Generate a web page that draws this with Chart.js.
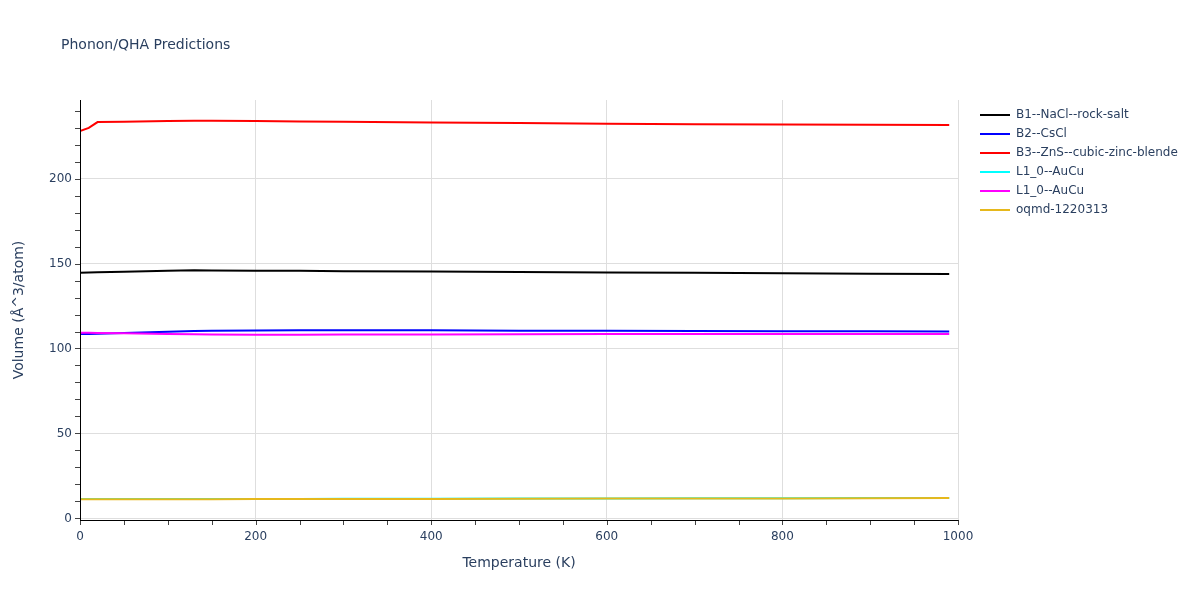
<!DOCTYPE html>
<html>
<head>
<meta charset="utf-8">
<script src="https://cdn.jsdelivr.net/npm/chart.js@4.4.1/dist/chart.umd.min.js"></script>
<style>
  html, body { margin: 0; padding: 0; background: #fff; }
  #wrap { position: relative; width: 1200px; height: 600px; font-family: "DejaVu Sans", Verdana, Arial, sans-serif; }
  #title { position: absolute; left: 61px; top: 36px; font-size: 14px; color: #2a3f5f; white-space: nowrap; }
  #legend { position: absolute; left: 980px; top: 106px; }
  .item { position: relative; height: 19px; font-size: 12px; color: #2a3f5f; white-space: nowrap; }
  .swatch { position: absolute; left: 0; top: 8px; width: 30px; height: 2px; }
  .label { position: absolute; left: 36px; top: 0px; line-height: 17px; }
</style>
</head>
<body>
<div id="wrap">
  <canvas id="c" width="1200" height="600"></canvas>
  <div id="title">Phonon/QHA Predictions</div>
  <div id="legend"></div>
</div>
<script>
// ---- data ----
const temperatures = [0, 10, 20, 50, 100, 130, 150, 200, 250, 300, 400, 500, 600, 700, 800, 900, 990];
const seriesNames = ["B1--NaCl--rock-salt", "B2--CsCl", "B3--ZnS--cubic-zinc-blende", "L1_0--AuCu", "L1_0--AuCu", "oqmd-1220313"];
const seriesColors = ["#000000", "#0000ff", "#ff0000", "#00ffff", "#ff00ff", "#e6b81c"];
const b1NaCl   = [144.6, 144.7, 144.8, 145.1, 145.7, 146.0, 145.9, 145.8, 145.7, 145.5, 145.3, 145.0, 144.7, 144.5, 144.2, 144.0, 143.9];
const b2CsCl   = [108.5, 108.6, 108.7, 109.1, 109.8, 110.3, 110.5, 110.6, 110.7, 110.8, 110.7, 110.5, 110.4, 110.3, 110.2, 110.1, 110.0];
const b3ZnS    = [228.0, 229.8, 233.2, 233.4, 233.8, 234.0, 234.0, 233.8, 233.6, 233.4, 233.0, 232.6, 232.2, 232.0, 231.8, 231.6, 231.5];
const l10AuCuA = [11.4, 11.4, 11.4, 11.4, 11.4, 11.4, 11.4, 11.5, 11.5, 11.6, 11.6, 11.7, 11.8, 11.9, 11.9, 12.0, 12.1];
const l10AuCuB = [109.3, 109.2, 109.1, 108.9, 108.6, 108.4, 108.3, 108.1, 108.1, 108.2, 108.3, 108.4, 108.5, 108.5, 108.6, 108.6, 108.6];
const oqmd     = [11.3, 11.3, 11.3, 11.3, 11.3, 11.3, 11.3, 11.4, 11.4, 11.5, 11.5, 11.6, 11.7, 11.8, 11.8, 11.9, 12.0];
const xTickValues = [0, 200, 400, 600, 800, 1000];
const yTickValues = [0, 50, 100, 150, 200];
const xRange = [0, 1000];
const yRange = [-0.9, 246.2];
const xMinorStep = 50;
const yMinorStep = 10;

const allSeries = [b1NaCl, b2CsCl, b3ZnS, l10AuCuA, l10AuCuB, oqmd];
const FONT = '"DejaVu Sans", Verdana, Arial, sans-serif';
const TEXT = '#2a3f5f';

const datasets = allSeries.map((vals, i) => ({
  label: seriesNames[i],
  data: temperatures.map((t, k) => ({x: t, y: vals[k]})),
  borderColor: seriesColors[i],
  backgroundColor: seriesColors[i],
  borderWidth: 2,
  pointRadius: 0,
  tension: 0,
  fill: false,
  order: allSeries.length - 1 - i
}));

// legend (HTML, real text)
const lg = document.getElementById('legend');
seriesNames.forEach((n, i) => {
  const d = document.createElement('div');
  d.className = 'item';
  d.innerHTML = '<span class="swatch" style="background:' + seriesColors[i] + '"></span><span class="label"></span>';
  d.querySelector('.label').textContent = n;
  lg.appendChild(d);
});

const axisDecor = {
  id: 'axisDecor',
  afterDraw(chart) {
    const {ctx, chartArea: a, scales: {x, y}} = chart;
    ctx.save();
    ctx.strokeStyle = '#444';
    ctx.lineWidth = 1;
    ctx.beginPath();
    for (let v = xRange[0]; v <= xRange[1] + 1e-9; v += xMinorStep) {
      const px = Math.round(x.getPixelForValue(v)) + 0.5;
      ctx.moveTo(px, a.bottom); ctx.lineTo(px, a.bottom + 5);
    }
    for (let v = 0; v <= yRange[1]; v += yMinorStep) {
      const py = Math.round(y.getPixelForValue(v)) + 0.5;
      ctx.moveTo(a.left - 5, py); ctx.lineTo(a.left, py);
    }
    ctx.stroke();
    ctx.strokeStyle = '#000';
    ctx.beginPath();
    ctx.moveTo(a.left + 0.5, a.top); ctx.lineTo(a.left + 0.5, a.bottom + 1);
    ctx.moveTo(a.left, a.bottom + 0.5); ctx.lineTo(a.right + 0.5, a.bottom + 0.5);
    ctx.stroke();
    ctx.restore();
  }
};

new Chart(document.getElementById('c'), {
  type: 'line',
  data: { datasets },
  plugins: [axisDecor],
  options: {
    responsive: false,
    animation: false,
    layout: { padding: { left: 0, right: 242, top: 100, bottom: 0 } },
    plugins: { legend: { display: false }, title: { display: false }, tooltip: { enabled: false } },
    scales: {
      x: {
        type: 'linear',
        min: xRange[0], max: xRange[1],
        afterFit(s) { s.height = 80; },
        afterBuildTicks(s) { s.ticks = xTickValues.map(v => ({value: v})); },
        grid: { color: '#dedede', drawTicks: false },
        border: { display: false },
        ticks: { padding: 10, color: TEXT, font: { family: FONT, size: 12 }, maxRotation: 0, autoSkip: false, callback: v => String(v) },
        title: { display: true, text: 'Temperature (K)', color: TEXT, font: { family: FONT, size: 14 }, padding: { top: 0, bottom: 28.6 } }
      },
      y: {
        type: 'linear',
        min: yRange[0], max: yRange[1],
        afterFit(s) { s.width = 80; },
        afterBuildTicks(s) { s.ticks = yTickValues.map(v => ({value: v})); },
        grid: { color: '#dedede', drawTicks: false },
        border: { display: false },
        ticks: { padding: 8, color: TEXT, font: { family: FONT, size: 12 }, callback: v => String(v) },
        title: { display: true, text: 'Volume (Å^3/atom)', color: TEXT, font: { family: FONT, size: 14 }, padding: { top: 11, bottom: 0 } }
      }
    }
  }
});
</script>
</body>
</html>
